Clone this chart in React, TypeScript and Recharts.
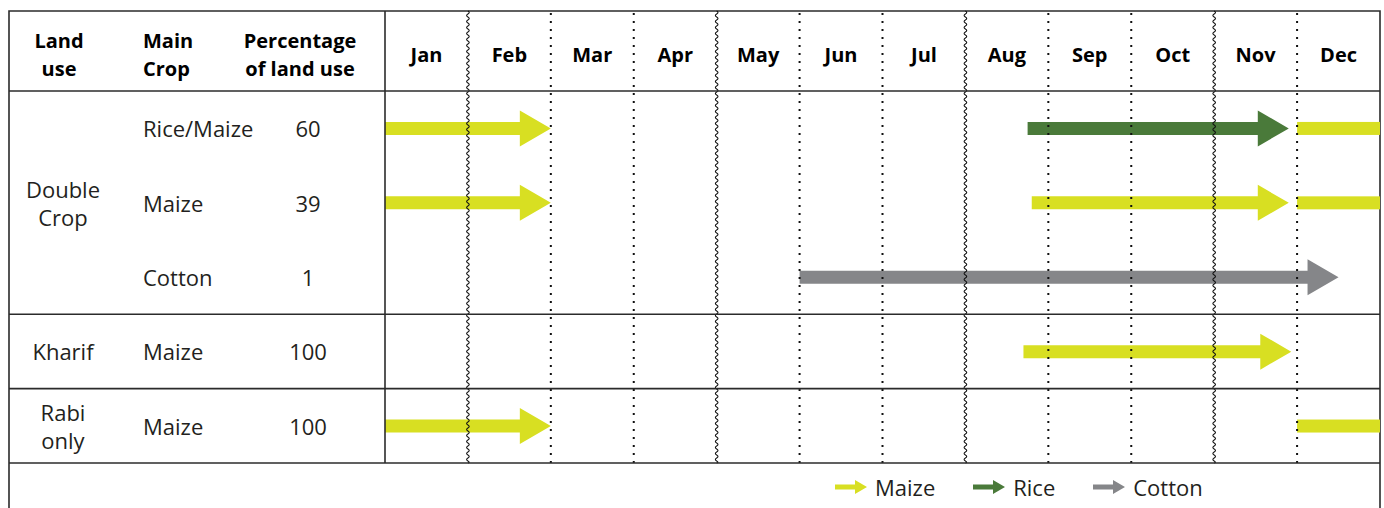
import { BarChart, Bar, XAxis, YAxis, ReferenceLine, Legend, Customized } from 'recharts';

const months = ['Jan', 'Feb', 'Mar', 'Apr', 'May', 'Jun', 'Jul', 'Aug', 'Sep', 'Oct', 'Nov', 'Dec'];
const wavyBounds = [1, 4, 7, 10];

// table rows
const mainCrops = ['Rice/Maize', 'Maize', 'Cotton', 'Maize', 'Maize'];
const landShare = [60, 39, 1, 100, 100];
const landUse = ['Double\nCrop', 'Kharif', 'Rabi\nonly'];
const landUseRows = [[0, 1, 2], [3], [4]];

// season spans in months from 1 Jan
const earlySeason: ([number, number] | null)[] = [[0, 2], [0, 2], null, null, [0, 2]];
const mainSeason: ([number, number] | null)[] = [[7.75, 10.9], [7.8, 10.9], [5, 11.5], [7.7, 10.93], null];
const mainSeasonCrop = ['Rice', 'Maize', 'Cotton', 'Maize', null];
const lateSeason: ([number, number] | null)[] = [[11, 12], [11, 12], null, null, [11, 12]];

const legendCrops = ['Maize', 'Rice', 'Cotton'];
const cropColors: Record<string, string> = { Maize: '#d8df22', Rice: '#4a7a3a', Cotton: '#858689' };

const FONT = '"Open Sans", sans-serif';
const INK = '#231f20';
const RULE = '#2b2b2b';
const W = 1384;
const H = 508;
const FRAME_L = 9;
const FRAME_T = 11;
const FRAME_R = 1380;
const HEADER_H = 80;
const TABLE_W = 376;
const HEADER_MID = 54;

const data = mainCrops.map((crop, i) => ({
  row: i + 0.5,
  crop,
  early: earlySeason[i],
  main: mainSeason[i],
  mainCrop: mainSeasonCrop[i],
  late: lateSeason[i],
}));

const rowTicks = mainCrops.map((_, i) => i + 0.5);
const monthTicks = months.map((_, i) => i + 0.5);

const SHAFT = 13;
const HEAD_W = 36;
const HEAD_L = 31;

// eslint-disable-next-line @typescript-eslint/no-explicit-any
function Arrow({ x, y, width, height, range, color }: any) {
  if (!range || !color || !Number.isFinite(x) || !Number.isFinite(width)) return null;
  const cy = y + height / 2;
  if (range[1] >= 12) {
    // continues into next year: no head
    return <rect x={x} y={cy - SHAFT / 2} width={width} height={SHAFT} fill={color} />;
  }
  const x2 = x + width;
  const hx = x2 - HEAD_L;
  const d = `M${x},${cy - SHAFT / 2} H${hx} V${cy - HEAD_W / 2} L${x2},${cy} L${hx},${cy + HEAD_W / 2} V${cy + SHAFT / 2} H${x} Z`;
  return <path d={d} fill={color} />;
}

function wavyPath(x: number, y1: number, y2: number) {
  const step = 3;
  let d = `M${x},${y1}`;
  let s = 1;
  for (let y = y1; y < y2; y += step) {
    d += ` Q${x + 2.6 * s},${y + step / 2} ${x},${Math.min(y + step, y2)}`;
    s = -s;
  }
  return d;
}

function monthDivider(i: number) {
  // eslint-disable-next-line @typescript-eslint/no-explicit-any
  return (p: any) => {
    const top = Math.min(p.y1, p.y2) - HEADER_H;
    const bottom = Math.max(p.y1, p.y2);
    if (wavyBounds.includes(i)) {
      return <path d={wavyPath(p.x1, top, bottom)} fill="none" stroke="#111" strokeWidth={1.1} />;
    }
    return (
      <line x1={p.x1} x2={p.x2} y1={top + 2} y2={bottom} stroke="#111" strokeWidth={2} strokeDasharray="2 6" />
    );
  };
}

// eslint-disable-next-line @typescript-eslint/no-explicit-any
const fullRule = (p: any) => (
  <line x1={p.x1 - TABLE_W} x2={p.x2} y1={p.y1} y2={p.y2} stroke={RULE} strokeWidth={1.6} />
);

// eslint-disable-next-line @typescript-eslint/no-explicit-any
const tableDivider = (p: any) => (
  <line x1={p.x1} x2={p.x2} y1={Math.min(p.y1, p.y2) - HEADER_H} y2={Math.max(p.y1, p.y2)} stroke={RULE} strokeWidth={1.6} />
);

// eslint-disable-next-line @typescript-eslint/no-explicit-any
function MonthTick({ x, payload }: any) {
  return (
    <text x={x} y={HEADER_MID} textAnchor="middle" dominantBaseline="central" fontFamily={FONT} fontWeight={700} fontSize={20} fill="#000">
      {months[Math.floor(payload.value)]}
    </text>
  );
}

// eslint-disable-next-line @typescript-eslint/no-explicit-any
function RowTick({ y, payload }: any) {
  const i = Math.floor(payload.value);
  const g = landUseRows.findIndex((rows) => rows[Math.floor(rows.length / 2)] === i);
  const lines = g >= 0 ? landUse[g].split('\n') : [];
  return (
    <g fontFamily={FONT} fontSize={22} fill={INK}>
      {lines.map((t, k) => (
        <text key={t} x={63} y={y + (k - (lines.length - 1) / 2) * 28} textAnchor="middle" dominantBaseline="central">
          {t}
        </text>
      ))}
      <text x={143} y={y} dominantBaseline="central">{mainCrops[i]}</text>
      <text x={308} y={y} textAnchor="middle" dominantBaseline="central">{landShare[i]}</text>
    </g>
  );
}

function TableHeader() {
  const head = [
    { x: 59, anchor: 'middle', lines: ['Land', 'use'] },
    { x: 143, anchor: 'start', lines: ['Main', 'Crop'] },
    { x: 300, anchor: 'middle', lines: ['Percentage', 'of land use'] },
  ];
  return (
    <g fontFamily={FONT} fontWeight={700} fontSize={20} fill="#000">
      <path d={`M${FRAME_L},${H + 5} V${FRAME_T} H${FRAME_R} V${H + 5}`} fill="none" stroke={RULE} strokeWidth={1.6} />
      {head.map((h) =>
        h.lines.map((t, k) => (
          <text key={t} x={h.x} y={HEADER_MID + (k - 0.5) * 28} textAnchor={h.anchor as 'middle' | 'start'} dominantBaseline="central">
            {t}
          </text>
        )),
      )}
    </g>
  );
}

function CropLegend() {
  return (
    <div style={{ display: 'flex', alignItems: 'center', gap: 38, fontFamily: FONT, fontSize: 22, color: INK }}>
      {legendCrops.map((c) => (
        <div key={c} style={{ display: 'flex', alignItems: 'center', gap: 8 }}>
          <svg width={32} height={16}>
            <path d="M0,5.5 H20 V1 L32,8 L20,15 V10.5 H0 Z" fill={cropColors[c]} />
          </svg>
          <span>{c}</span>
        </div>
      ))}
    </div>
  );
}

export default function App() {
  return (
    <div style={{ position: 'absolute', left: 0, top: 0, width: W, height: H, background: '#fff' }}>
      <BarChart
        width={W}
        height={H}
        data={data}
        layout="vertical"
        margin={{ top: FRAME_T, right: W - FRAME_R, bottom: 45, left: FRAME_L }}
      >
        <XAxis
          type="number"
          orientation="top"
          domain={[0, 12]}
          ticks={monthTicks}
          height={HEADER_H}
          axisLine={false}
          tickLine={false}
          tick={<MonthTick />}
          interval={0}
        />
        <YAxis
          yAxisId="main"
          type="number"
          dataKey="row"
          domain={[0, 5]}
          ticks={rowTicks}
          width={TABLE_W}
          axisLine={false}
          tickLine={false}
          tick={<RowTick />}
          interval={0}
        />
        <YAxis yAxisId="early" type="number" dataKey="row" domain={[0, 5]} ticks={rowTicks} hide />
        <YAxis yAxisId="late" type="number" dataKey="row" domain={[0, 5]} ticks={rowTicks} hide />

        {months.slice(1).map((_, k) => (
          <ReferenceLine key={k} yAxisId="main" x={k + 1} shape={monthDivider(k + 1)} />
        ))}
        <ReferenceLine yAxisId="main" x={0} shape={tableDivider} />
        {[0, 3, 4, 5].map((v) => (
          <ReferenceLine key={v} yAxisId="main" y={v} shape={fullRule} />
        ))}

        <Bar
          yAxisId="early"
          dataKey="early"
          isAnimationActive={false}
          // eslint-disable-next-line @typescript-eslint/no-explicit-any
          shape={(p: any) => <Arrow {...p} range={p.payload.early} color={cropColors.Maize} />}
        />
        <Bar
          yAxisId="main"
          dataKey="main"
          isAnimationActive={false}
          // eslint-disable-next-line @typescript-eslint/no-explicit-any
          shape={(p: any) => <Arrow {...p} range={p.payload.main} color={cropColors[p.payload.mainCrop]} />}
        />
        <Bar
          yAxisId="late"
          dataKey="late"
          isAnimationActive={false}
          // eslint-disable-next-line @typescript-eslint/no-explicit-any
          shape={(p: any) => <Arrow {...p} range={p.payload.late} color={cropColors.Maize} />}
        />

        <Customized component={<TableHeader />} />
        <Legend
          layout="horizontal"
          align="center"
          verticalAlign="middle"
          content={<CropLegend />}
          wrapperStyle={{ top: 472, left: 835, width: 420, height: 32 }}
        />
      </BarChart>
    </div>
  );
}
